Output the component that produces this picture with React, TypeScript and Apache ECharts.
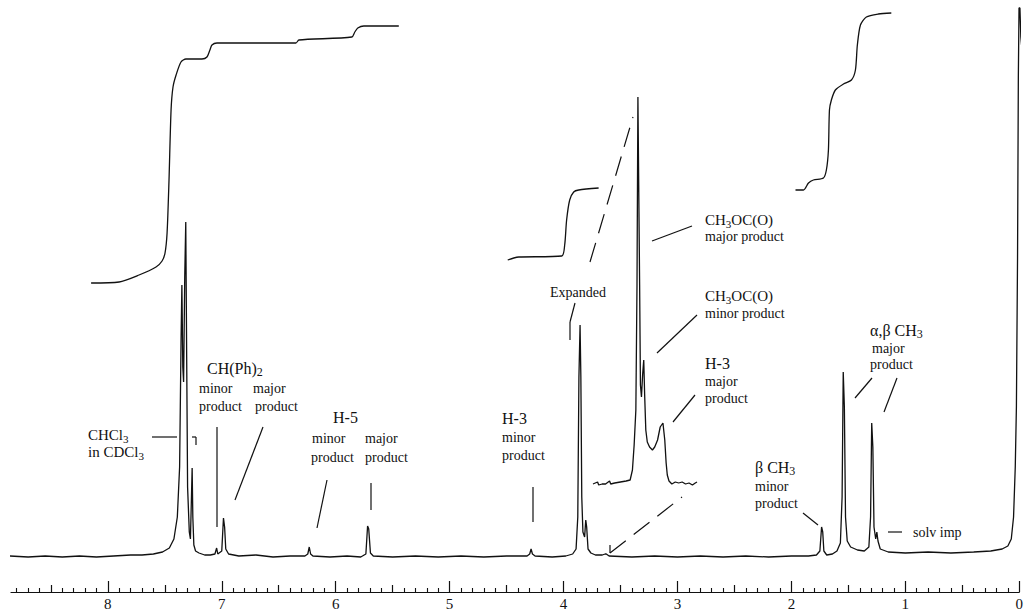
import React, { useEffect, useRef } from 'react';
import * as echarts from 'echarts';

// ---- data (ppm, intensity above baseline) ----
const MAIN_SPECTRUM: [number, number][] = [
  [8.86, 1], [8.7, 0], [8.55, 1], [8.4, 0], [8.25, 1], [8.1, 0], [7.95, 1], [7.8, 2], [7.7, 2],
  [7.6, 3], [7.52, 5], [7.46, 9], [7.42, 18], [7.39, 40], [7.37, 90], [7.357, 220], [7.35, 272],
  [7.342, 190], [7.335, 175], [7.325, 280], [7.316, 335], [7.308, 200], [7.3, 70], [7.285, 25],
  [7.275, 18], [7.266, 60], [7.26, 89], [7.254, 40], [7.245, 12], [7.23, 6], [7.2, 4], [7.15, 2],
  [7.1, 2], [7.06, 3], [7.045, 9], [7.035, 3], [7.0, 6], [6.985, 39], [6.975, 30], [6.965, 8],
  [6.94, 3], [6.85, 1], [6.7, 2], [6.55, 0], [6.4, 1], [6.27, 1], [6.245, 3], [6.232, 10],
  [6.22, 3], [6.2, 1], [6.05, 0], [5.9, 1], [5.78, 0], [5.735, 3], [5.72, 31], [5.71, 28],
  [5.695, 4], [5.67, 1], [5.5, 0], [5.3, 1], [5.1, 0], [4.9, 1], [4.7, 0], [4.5, 1], [4.32, 1],
  [4.297, 3], [4.285, 8], [4.273, 3], [4.25, 1], [4.1, 0], [3.98, 1], [3.92, 3], [3.89, 8],
  [3.875, 40], [3.865, 180], [3.855, 232], [3.848, 180], [3.84, 60], [3.83, 25], [3.815, 20],
  [3.805, 37], [3.797, 30], [3.785, 8], [3.76, 4], [3.72, 2], [3.66, 2], [3.635, 3], [3.625, 3],
  [3.6, 1], [3.4, 0], [3.2, 1], [3.0, 0], [2.8, 1], [2.6, 0], [2.4, 1], [2.2, 0], [2.0, 1],
  [1.85, 1], [1.78, 2], [1.75, 6], [1.735, 30], [1.725, 25], [1.715, 6], [1.69, 2], [1.64, 3],
  [1.6, 6], [1.57, 14], [1.555, 60], [1.545, 185], [1.535, 150], [1.525, 40], [1.51, 16],
  [1.48, 10], [1.42, 7], [1.36, 6], [1.32, 10], [1.305, 40], [1.295, 134], [1.285, 110],
  [1.275, 30], [1.26, 18], [1.25, 25], [1.24, 16], [1.22, 8], [1.15, 5], [1.0, 4], [0.8, 5],
  [0.6, 4], [0.4, 5], [0.25, 6], [0.15, 8], [0.1, 11], [0.07, 18], [0.05, 40], [0.035, 90],
  [0.025, 150], [0.015, 300], [0.008, 480], [0.002, 549], [-0.006, 549], [-0.014, 520],
  [-0.03, 500],
];

const INSET_SPECTRUM: [number, number][] = [
  [4.24, 1], [4.2, 3], [4.19, 0], [4.16, 1], [4.13, 1], [4.095, 4], [4.085, 1], [4.05, 2],
  [4.0, 3], [3.95, 4], [3.915, 5], [3.895, 15], [3.88, 40], [3.865, 75], [3.855, 200],
  [3.847, 388], [3.84, 300], [3.832, 200], [3.825, 100], [3.816, 88], [3.806, 110], [3.796, 125],
  [3.788, 90], [3.778, 55], [3.765, 43], [3.745, 38], [3.72, 35], [3.7, 38], [3.675, 45],
  [3.652, 58], [3.628, 62], [3.612, 45], [3.6, 22], [3.59, 10], [3.575, 4], [3.55, 1],
  [3.52, 3], [3.49, 2], [3.46, 3], [3.43, 1], [3.4, 2], [3.37, 0], [3.345, 2], [3.33, 3],
];

const INTEGRAL_AROMATIC: [number, number][] = [
  [8.147, 274], [7.901, 275], [7.726, 282], [7.577, 290], [7.524, 296], [7.498, 304],
  [7.48, 324], [7.463, 377], [7.445, 447], [7.428, 470], [7.401, 482], [7.358, 495],
  [7.314, 498], [7.174, 498], [7.13, 500], [7.104, 507], [7.086, 512], [7.042, 514],
  [6.349, 514], [6.323, 517], [5.858, 520], [5.832, 525], [5.806, 529], [5.753, 531],
  [5.446, 531],
];

const INTEGRAL_OCH3: [number, number][] = [
  [4.49, 297], [4.437, 299], [4.393, 300], [4.016, 301], [3.99, 312], [3.973, 337],
  [3.946, 357], [3.911, 365], [3.867, 367], [3.692, 369],
];

const INTEGRAL_CH3: [number, number][] = [
  [1.964, 367], [1.894, 367], [1.85, 374], [1.807, 377], [1.719, 379], [1.693, 387],
  [1.675, 407], [1.666, 447], [1.649, 457], [1.614, 467], [1.543, 473], [1.473, 477],
  [1.438, 487], [1.421, 512], [1.394, 532], [1.342, 540], [1.237, 543], [1.123, 544],
];

const MAJOR_TICKS = [0, 1, 2, 3, 4, 5, 6, 7, 8];
const HALF_TICKS = [0.5, 1.5, 2.5, 3.5, 4.5, 5.5, 6.5, 7.5, 8.5];
const TENTH_TICKS = Array.from({ length: 89 }, (_, i) => i / 10).filter(
  (v) => Math.round(v * 10) % 5 !== 0
);

const X_MAX = 8.85;
const FONT = '"Liberation Serif", "Times New Roman", serif';
const INK = '#111';

function txt(x: number, y: number, text: string, size = 14) {
  return {
    type: 'text',
    x,
    y,
    silent: true,
    style: { text, fill: INK, font: `${size}px ${FONT}`, align: 'left', verticalAlign: 'middle' },
  };
}
function sub(x: number, y: number, main1: string, s: string, main2 = '', size = 15) {
  const parts = `{a|${main1}}{b|${s}}` + (main2 ? `{a|${main2}}` : '');
  return {
    type: 'text',
    x,
    y,
    silent: true,
    style: {
      text: parts,
      fill: INK,
      align: 'left',
      verticalAlign: 'middle',
      rich: {
        a: { fontSize: size, fontFamily: FONT, fill: INK },
        b: { fontSize: Math.round(size * 0.72), fontFamily: FONT, fill: INK, padding: [8, 0, 0, 0] },
      },
    },
  };
}
function ln(x1: number, y1: number, x2: number, y2: number, dash?: number[]) {
  return {
    type: 'line',
    silent: true,
    shape: { x1, y1, x2, y2 },
    style: { stroke: INK, lineWidth: 1.2, lineDash: dash },
  };
}

export default function App() {
  const ref = useRef<HTMLDivElement>(null);
  useEffect(() => {
    if (!ref.current) return;
    const chart = echarts.init(ref.current, undefined, { renderer: 'svg' });
    const baseAxis = {
      gridIndex: 0,
      type: 'value',
      min: 0,
      max: X_MAX,
      inverse: true,
      position: 'bottom',
      splitLine: { show: false },
    };
    const dash = [20, 10];
    chart.setOption({
      animation: false,
      backgroundColor: '#fff',
      grid: [
        { left: 11, right: 5, top: 0, bottom: 19 },
        { left: 593, right: 329, top: 0, bottom: 126 },
      ],
      xAxis: [
        {
          ...baseAxis,
          axisLine: { show: true, onZero: false, lineStyle: { color: INK, width: 1.2 } },
          axisTick: { show: true, inside: true, length: 11, customValues: MAJOR_TICKS, lineStyle: { color: INK, width: 1.2 } },
          axisLabel: {
            show: true,
            customValues: MAJOR_TICKS,
            color: INK,
            fontFamily: FONT,
            fontSize: 15,
            margin: 4,
            formatter: (v: number) => String(v),
          },
        },
        {
          ...baseAxis,
          axisLine: { show: false, onZero: false },
          axisTick: { show: true, inside: true, length: 7, customValues: HALF_TICKS, lineStyle: { color: INK, width: 1.2 } },
          axisLabel: { show: false },
        },
        {
          ...baseAxis,
          axisLine: { show: false, onZero: false },
          axisTick: { show: true, inside: true, length: 4, customValues: TENTH_TICKS, lineStyle: { color: INK, width: 1.1 } },
          axisLabel: { show: false },
        },
        { gridIndex: 1, type: 'value', min: 3.33, max: 4.24, inverse: true, show: false },
      ],
      yAxis: [
        { gridIndex: 0, type: 'value', min: -35, max: 557, show: false },
        { gridIndex: 1, type: 'value', min: 0, max: 485, show: false },
      ],
      series: [
        {
          type: 'line', xAxisIndex: 0, yAxisIndex: 0, data: MAIN_SPECTRUM, showSymbol: false,
          clip: false, silent: true, lineStyle: { color: INK, width: 1.3 },
        },
        {
          type: 'line', xAxisIndex: 3, yAxisIndex: 1, data: INSET_SPECTRUM, showSymbol: false,
          clip: false, silent: true, lineStyle: { color: INK, width: 1.3 },
        },
        {
          type: 'line', xAxisIndex: 0, yAxisIndex: 0, data: INTEGRAL_AROMATIC, showSymbol: false,
          smooth: 0.25, clip: false, silent: true, lineStyle: { color: INK, width: 1.3 },
        },
        {
          type: 'line', xAxisIndex: 0, yAxisIndex: 0, data: INTEGRAL_OCH3, showSymbol: false,
          smooth: 0.25, clip: false, silent: true, lineStyle: { color: INK, width: 1.3 },
        },
        {
          type: 'line', xAxisIndex: 0, yAxisIndex: 0, data: INTEGRAL_CH3, showSymbol: false,
          smooth: 0.25, clip: false, silent: true, lineStyle: { color: INK, width: 1.3 },
        },
      ],
      graphic: [
        // aromatic labels
        sub(88, 435, 'CHCl', '3', '', 15),
        sub(88, 452, 'in CDCl', '3', '', 15),
        ln(152, 437, 177, 437),
        ln(192, 437, 196, 437),
        ln(196, 437, 196, 445),
        sub(207, 368, 'CH(Ph)', '2', '', 16),
        txt(199, 388, 'minor'),
        txt(199, 406, 'product'),
        txt(253, 388, 'major'),
        txt(255, 406, 'product'),
        ln(217, 427, 217, 527),
        ln(263, 427, 235, 500),
        // H-5
        txt(333, 417, 'H-5', 16),
        txt(312, 438, 'minor'),
        txt(311, 457, 'product'),
        txt(365, 438, 'major'),
        txt(365, 457, 'product'),
        ln(327, 480, 317, 528),
        ln(371, 483, 371, 510),
        // H-3 minor
        txt(502, 418, 'H-3', 16),
        txt(502, 437, 'minor'),
        txt(502, 455, 'product'),
        ln(533, 487, 533, 522),
        // expanded
        txt(550, 292, 'Expanded'),
        ln(590, 262, 633, 117, dash),
        ln(575, 303, 570, 322),
        ln(570, 322, 570, 340),
        ln(610, 553, 682, 497, dash),
        ln(610, 545, 610, 553),
        // OCH3 labels
        sub(705, 220, 'CH', '3', 'OC(O)', 15),
        txt(705, 236, 'major product'),
        ln(652, 241, 692, 226),
        sub(705, 296, 'CH', '3', 'OC(O)', 15),
        txt(705, 313, 'minor product'),
        ln(657, 353, 697, 315),
        txt(705, 363, 'H-3', 16),
        txt(705, 381, 'major'),
        txt(705, 398, 'product'),
        ln(673, 422, 695, 395),
        // CH3 labels
        sub(870, 330, 'α,β CH', '3', '', 16),
        txt(872, 348, 'major'),
        txt(870, 364, 'product'),
        ln(872, 378, 855, 398),
        ln(897, 378, 884, 412),
        sub(755, 467, 'β CH', '3', '', 16),
        txt(755, 486, 'minor'),
        txt(755, 503, 'product'),
        ln(803, 513, 818, 525),
        ln(888, 532, 902, 532),
        txt(913, 532, 'solv imp'),
      ],
    });
    return () => chart.dispose();
  }, []);
  return (
    <div
      ref={ref}
      style={{ position: 'fixed', left: 0, top: 0, width: 1026, height: 611, background: '#fff' }}
    />
  );
}
